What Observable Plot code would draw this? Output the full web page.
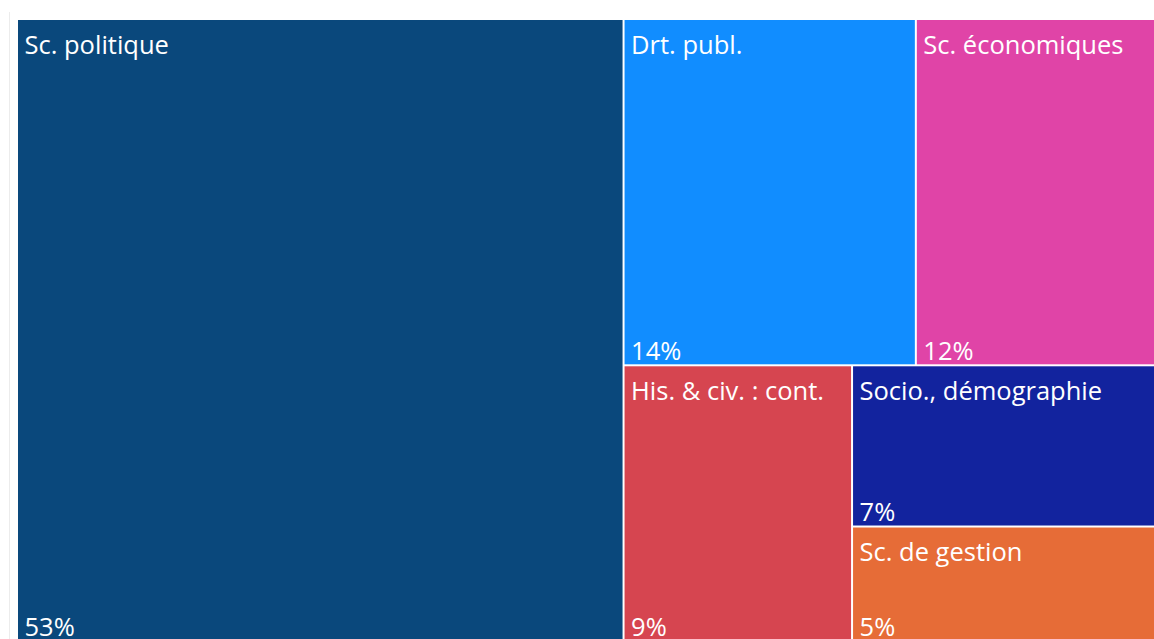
<!DOCTYPE html>
<html>
<head>
<meta charset="utf-8">
<script src="https://cdn.jsdelivr.net/npm/d3@7"></script>
<script src="https://cdn.jsdelivr.net/npm/@observablehq/plot@0.6"></script>
<style>
  html, body { margin: 0; padding: 0; background: #ffffff; overflow: hidden; }
  #wrap { position: relative; width: 1154px; height: 639px; overflow: hidden; }
  #edge { position: absolute; left: 9px; top: 12px; bottom: 0; border-left: 1px solid #ececec; }
  #chart { position: absolute; left: 0; top: 0; }
</style>
</head>
<body>
<div id="wrap"><div id="edge"></div><div id="chart"></div></div>
<script>
// Data (shares of the total, in %)
const categories = ["Sc. politique", "Drt. publ.", "Sc. économiques", "His. & civ. : cont.", "Socio., démographie", "Sc. de gestion"];
const values = [53.3, 14.3, 11.7, 8.9, 6.9, 4.9];
const colors = ["#0A487C", "#118DFF", "#E044A7", "#D64550", "#12239E", "#E66C37"];

const total = d3.sum(values);
const leaf = (i) => ({name: categories[i], value: values[i]});
// nesting that reproduces the tiling of the reference
const tree = {children: [
  leaf(0),
  {children: [
    {children: [leaf(1), leaf(2)]},
    {children: [leaf(3), {children: [leaf(4), leaf(5)]}]}
  ]}
]};

const root = d3.hierarchy(tree).sum(d => d.value || 0);
d3.treemap().tile(d3.treemapSliceDice).size([1, 1])(root);
const tiles = root.leaves().map(n => ({
  name: n.data.name,
  x0: n.x0, x1: n.x1, y0: n.y0, y1: n.y1,
  pct: Math.round(n.data.value / total * 100) + "%"
}));

const font = "'Segoe UI', 'Open Sans', sans-serif";
const plot = Plot.plot({
  width: 1154,
  height: 660,
  margin: 0,
  style: {background: "transparent", fontFamily: font},
  x: {domain: [0, 1], range: [17, 1155], axis: null},
  y: {domain: [0, 1], range: [19, 641], axis: null},
  color: {domain: categories, range: colors},
  marks: [
    Plot.rect(tiles, {x1: "x0", x2: "x1", y1: "y0", y2: "y1", fill: "name", inset: 1}),
    Plot.text(tiles, {x: "x0", y: "y0", text: "name", textAnchor: "start", lineAnchor: "top",
      dx: 7, dy: 16, fill: "white", fontSize: 25.5, fontFamily: font}),
    Plot.text(tiles, {x: "x0", y: "y1", text: "pct", textAnchor: "start", lineAnchor: "bottom",
      dx: 7, dy: -6, fill: "white", fontSize: 25.5, fontFamily: font})
  ]
});
document.getElementById("chart").appendChild(plot);
</script>
</body>
</html>
